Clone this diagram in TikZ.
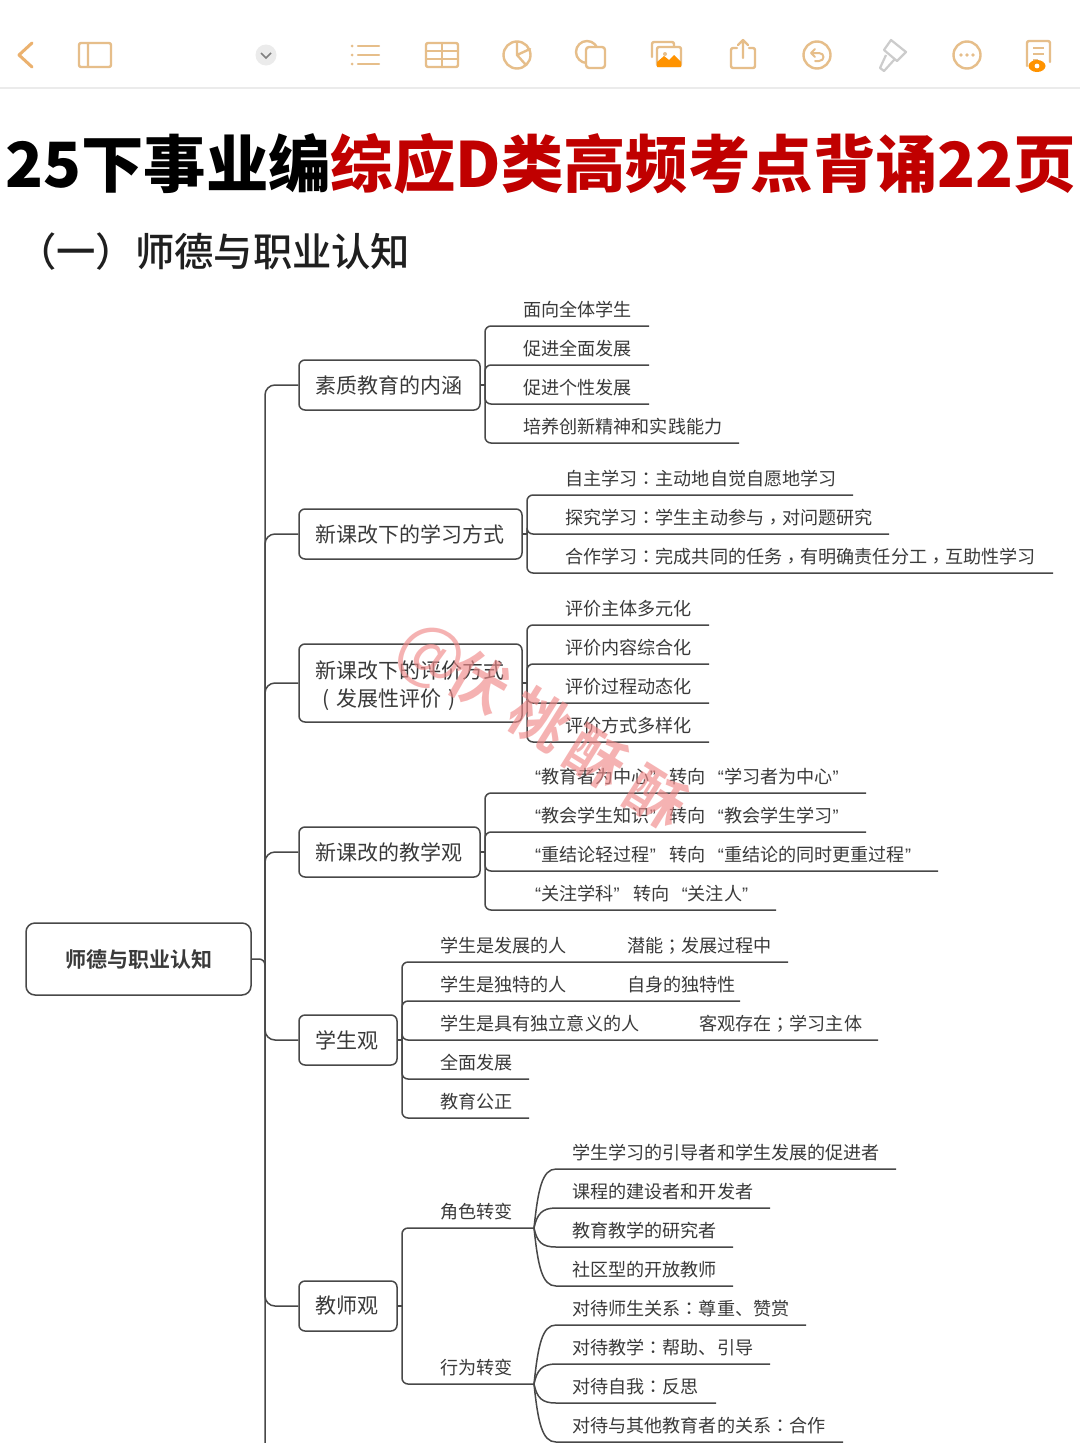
\documentclass[tikz,border=0pt]{standalone}
\usepackage{fontspec}
\setmainfont{Noto Sans CJK SC}[BoldFont={Noto Sans CJK SC Bold}]
\newfontfamily\tcf{Noto Sans CJK TC}
\newfontfamily\heavyf{Noto Sans CJK SC Black}
\newfontfamily\midf{Noto Sans CJK SC Medium}
\definecolor{ink}{HTML}{3A3A3A}
\definecolor{wire}{HTML}{484848}
\definecolor{icon}{HTML}{E6BE8A}
\definecolor{titlered}{HTML}{C00000}
\definecolor{mark}{HTML}{F08A8A}
\newcommand{\qo}{\makebox[9pt][r]{\fontspec{Liberation Sans}“}}
\newcommand{\qc}{\makebox[9pt][l]{\fontspec{Liberation Sans}”}}
\newcommand{\cn}{{\tcf ：}}
\newcommand{\sm}{{\tcf ；}}
\newcommand{\cm}{\raisebox{-4pt}{\tcf ，}}
\tikzset{
 x=1pt,y=-1pt,
 wirepath/.style={draw=wire,line width=1.5pt,rounded corners=6pt},
 curvepath/.style={draw=wire,line width=1.5pt},
 boxnode/.style={draw=wire,line width=1.5pt,rounded corners=6pt,inner xsep=16pt,inner ysep=0pt,align=left,font=\fontsize{21}{28}\selectfont,text=ink,anchor=center},
 leaftext/.style={inner sep=0pt,anchor=west,font=\fontsize{18.1}{18}\selectfont,text=ink,text height=15.5pt,text depth=2.5pt},
 iconline/.style={draw=icon,line width=2.4pt,line join=round,line cap=round},
 wmark/.style={text=mark,opacity=.65,font=\fontsize{58}{58}\selectfont\bfseries,inner sep=0pt},
}
% \leafat{name}{branch x}{line y}{text x}{end x}{text}
\newcommand{\leafat}[6]{%
 \coordinate (#1s) at (#2,#3);
 \coordinate (#1e) at (#5,#3);
 \node[leaftext] (#1) at (#4,#3-16.3) {#6};
}
\newcommand{\wired}[2]{\draw[wirepath] (#1) |- (#2e);}
\begin{document}
\begin{tikzpicture}
\useasboundingbox (0,0) rectangle (1080,1443);
\fill[white] (0,0) rectangle (1080,1443);
% toolbar
\fill[black!8] (0,87) rectangle (1080,89);
\draw[iconline,line width=3pt,draw=icon!80!orange] (32,43) -- (19,55) -- (32,67);
\draw[iconline,rounded corners=2pt] (79,43) rectangle (111,67) (88,43) -- (88,67);
\fill[black!8] (266,55) circle (10.5);
\draw[line width=1.6pt,draw=black!50] (261,53) -- (266,58) -- (271,53);
\foreach \yy in {46,55,64}{\draw[iconline] (358,\yy) -- (379,\yy); \fill[icon] (352,\yy) circle (1.5);}
\draw[iconline,rounded corners=2pt] (426,43) rectangle (458,67);
\draw[iconline] (426,51) -- (458,51) (426,59) -- (458,59) (442,43) -- (442,67);
\draw[iconline] (517,55) circle (13.5) (517,55) -- (517,41.5) (517,55) -- (530,49) (517,55) -- (526,65);
\draw[iconline] (587,52) circle (11);
\draw[iconline,fill=white,rounded corners=3pt] (586,47) rectangle (605,68);
\draw[iconline,rounded corners=2pt] (652,57) -- (652,42) -- (674,42) -- (674,47);
\draw[iconline,rounded corners=2pt] (657,47) rectangle (681,66);
\fill[orange!85!yellow] (657,67) -- (657,62) -- (664,56) -- (669,60) -- (674,55) -- (681,62) -- (681,67) -- cycle;
\fill[icon] (665,54) circle (2);
\draw[iconline,rounded corners=2pt] (737,48) -- (731,48) -- (731,68) -- (755,68) -- (755,48) -- (749,48);
\draw[iconline] (743,58) -- (743,40) (738,45) -- (743,40) -- (748,45);
\draw[iconline] (817,55) circle (13.5);
\draw[iconline,line width=2pt] (815,49) -- (811,53) -- (815,57) (811,53) -- (819,53) .. controls (825,53) and (825,61) .. (819,61) -- (815,61);
\draw[draw=black!20,line width=2.2pt,line join=round] (891,40) -- (906,52) -- (897,61) -- (884,50) -- cycle (886,55) -- (880,68) -- (884,71) -- (894,60);
\draw[iconline] (967,55) circle (13.5);
\foreach \xx in {961,967,973}{\fill[icon] (\xx,55) circle (1.8);}
\draw[iconline,rounded corners=2pt] (1027,66) -- (1027,41) -- (1050,41) -- (1050,62);
\draw[icon,line width=1.6pt] (1033,48) -- (1044,48) (1033,54) -- (1044,54) (1033,60) -- (1038,60);
\fill[orange!85!yellow] (1037,66) ellipse (8.5 and 6);
\fill[white] (1037,66) circle (2.4);
% headings
\node[inner sep=0pt,anchor=west,font=\fontsize{62.4}{63}\heavyf] (title) at (5,164) {25下事业编\textcolor{titlered}{综应D类高频考点背诵22页}};
\node[inner sep=0pt,anchor=west,font=\fontsize{39.3}{39}\midf,text=black!88] (subtitle) at (17,252) {（一）师德与职业认知};
% root and boxes
\node[boxnode,font=\fontsize{21}{28}\selectfont\bfseries,minimum width=225pt,minimum height=72pt,align=center,inner xsep=0pt,rounded corners=9pt] (root) at (138.5,959) {师德与职业认知};
\node[boxnode,text width=149pt,minimum height=50pt] (b1) at (389.5,385) {素质教育的内涵};
\node[boxnode,text width=191pt,minimum height=50pt] (b2) at (410.5,534) {新课改下的学习方式};
\node[boxnode,text width=191pt,minimum height=78pt] (b3) at (410.5,683) {\rule{0pt}{24pt}新课改下的评价方式\\\hspace{7pt}( 发展性评价 )};
\node[boxnode,text width=149pt,minimum height=50pt] (b4) at (389.5,852) {新课改的教学观};
\node[boxnode,text width=66pt,minimum height=50pt] (b5) at (348,1040) {学生观};
\node[boxnode,text width=66pt,minimum height=50pt] (b6) at (348,1306) {教师观};
% trunk
\coordinate (rj) at (265,959);
\coordinate (rbot) at (265,1443);
\draw[wirepath] (root.east) -- (rj) -- (rbot);
\foreach \bb in {b1,b2,b3,b4,b5,b6}{\draw[wirepath,rounded corners=10pt] (rj) |- (\bb.west);}
% group 1
\coordinate (j1) at (485,385);
\draw[wirepath] (b1.east) -- (j1);
\leafat{a1}{485}{326}{523}{649}{面向全体学生}
\leafat{a2}{485}{365}{523}{649}{促进全面发展}
\leafat{a3}{485}{404}{523}{649}{促进个性发展}
\leafat{a4}{485}{443}{523}{739}{培养创新精神和实践能力}
\foreach \ll in {a1,a2,a3,a4}{\wired{j1}{\ll}}
% group 2
\coordinate (j2) at (527,534);
\draw[wirepath] (b2.east) -- (j2);
\leafat{c1}{527}{495}{565}{853}{自主学习\cn 主动地自觉自愿地学习}
\leafat{c2}{527}{534}{565}{889}{探究学习\cn 学生主动参与\cm 对问题研究}
\leafat{c3}{527}{573}{565}{1053}{合作学习\cn 完成共同的任务\cm 有明确责任分工\cm 互助性学习}
\foreach \ll in {c1,c2,c3}{\wired{j2}{\ll}}
% group 3
\coordinate (j3) at (527,683);
\draw[wirepath] (b3.east) -- (j3);
\leafat{d1}{527}{625}{565}{709}{评价主体多元化}
\leafat{d2}{527}{664}{565}{709}{评价内容综合化}
\leafat{d3}{527}{703}{565}{709}{评价过程动态化}
\leafat{d4}{527}{742}{565}{709}{评价方式多样化}
\foreach \ll in {d1,d2,d3,d4}{\wired{j3}{\ll}}
% group 4
\coordinate (j4) at (485,852);
\draw[wirepath] (b4.east) -- (j4);
\leafat{e1}{485}{793}{532}{866}{\qo 教育者为中心\qc\hspace{11pt}转向\hspace{9pt}\qo 学习者为中心\qc}
\leafat{e2}{485}{832}{532}{866}{\qo 教会学生知识\qc\hspace{11pt}转向\hspace{9pt}\qo 教会学生学习\qc}
\leafat{e3}{485}{871}{532}{938}{\qo 重结论轻过程\qc\hspace{11pt}转向\hspace{9pt}\qo 重结论的同时更重过程\qc}
\leafat{e4}{485}{910}{532}{776}{\qo 关注学科\qc\hspace{11pt}转向\hspace{9pt}\qo 关注人\qc}
\foreach \ll in {e1,e2,e3,e4}{\wired{j4}{\ll}}
% group 5
\coordinate (j5) at (402,1040);
\draw[wirepath] (b5.east) -- (j5);
\leafat{f1}{402}{962}{440}{788}{学生是发展的人}
\node[leaftext] (f1b) at (627,945.7) {潜能\sm 发展过程中};
\leafat{f2}{402}{1001}{440}{740}{学生是独特的人}
\node[leaftext] (f2b) at (627,984.7) {自身的独特性};
\leafat{f3}{402}{1040}{440}{878}{学生是具有独立意义的人}
\node[leaftext] (f3b) at (699,1023.7) {客观存在\sm 学习主体};
\leafat{f4}{402}{1079}{440}{529}{全面发展}
\leafat{f5}{402}{1118}{440}{529}{教育公正}
\foreach \ll in {f1,f2,f3,f4,f5}{\wired{j5}{\ll}}
% group 6
\coordinate (j6) at (402,1306);
\draw[wirepath] (b6.east) -- (j6);
\leafat{g1}{402}{1228}{440}{534}{角色转变}
\leafat{g2}{402}{1384}{440}{534}{行为转变}
\foreach \ll in {g1,g2}{\wired{j6}{\ll}}
\leafat{h1}{556}{1169}{572}{896}{学生学习的引导者和学生发展的促进者}
\leafat{h2}{556}{1208}{572}{770}{课程的建设者和开发者}
\leafat{h3}{556}{1247}{572}{733}{教育教学的研究者}
\leafat{h4}{556}{1286}{572}{733}{社区型的开放教师}
\leafat{k1}{556}{1325}{572}{806}{对待师生关系\cn 尊重、赞赏}
\leafat{k2}{556}{1364}{572}{770}{对待教学\cn 帮助、引导}
\leafat{k3}{556}{1403}{572}{716}{对待自我\cn 反思}
\leafat{k4}{556}{1442}{572}{843}{对待与其他教育者的关系\cn 合作}
\draw[curvepath] (g1e) .. controls +(4,-38) and +(-14,0) .. (h1s) -- (h1e);
\draw[curvepath] (g1e) .. controls +(3,-14) and +(-14,0) .. (h2s) -- (h2e);
\draw[curvepath] (g1e) .. controls +(3,14) and +(-14,0) .. (h3s) -- (h3e);
\draw[curvepath] (g1e) .. controls +(4,38) and +(-14,0) .. (h4s) -- (h4e);
\draw[curvepath] (g2e) .. controls +(4,-38) and +(-14,0) .. (k1s) -- (k1e);
\draw[curvepath] (g2e) .. controls +(3,-14) and +(-14,0) .. (k2s) -- (k2e);
\draw[curvepath] (g2e) .. controls +(3,14) and +(-14,0) .. (k3s) -- (k3e);
\draw[curvepath] (g2e) .. controls +(4,38) and +(-14,0) .. (k4s) -- (k4e);
% watermark
\node[wmark,rotate=-25,font=\fontsize{70}{70}\selectfont] (w0) at (430,658) {@};
\node[wmark,rotate=-30] (w1) at (480,682) {伏};
\node[wmark,rotate=-32] (w2) at (540,719) {桃};
\node[wmark,rotate=-32] (w3) at (597,757) {酥};
\node[wmark,rotate=-32] (w4) at (657,797) {酥};
\end{tikzpicture}
\end{document}
